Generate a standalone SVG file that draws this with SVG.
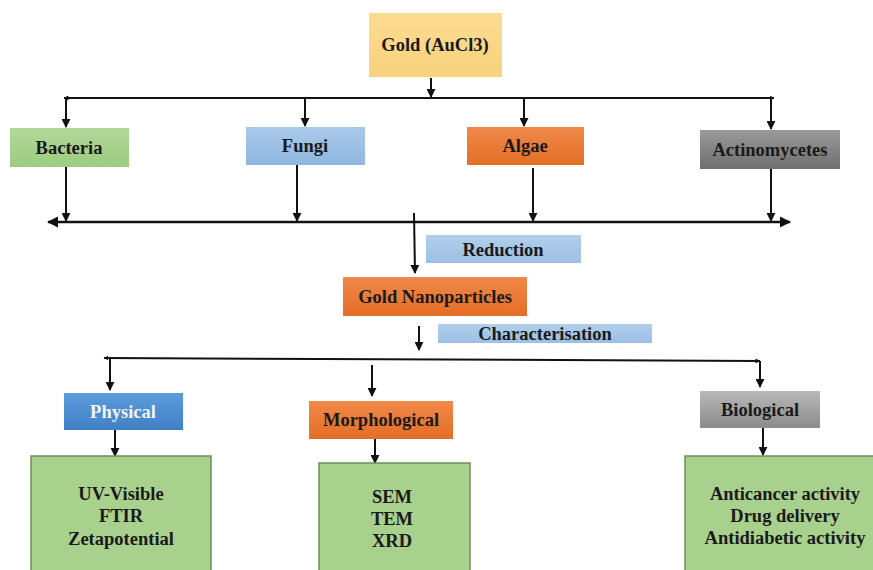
<svg xmlns="http://www.w3.org/2000/svg" width="873" height="570" viewBox="0 0 873 570">
<style>
  .t{font-family:"Liberation Serif","Times New Roman",serif;font-weight:bold;font-size:18.5px;fill:#1a1a1a;text-anchor:middle;dominant-baseline:central}
  .w{fill:#f2f2f2}
  .ln{stroke:#111;stroke-width:2;fill:none}
  .lnt{stroke:#111;stroke-width:2.5;fill:none}
  .green{fill:url(#gGreen)}
  .blue{fill:url(#gBlue)}
  .lblue{fill:url(#gLBlue)}
  .orange{fill:url(#gOrange)}
  .gray{fill:url(#gGray)}
  .big{fill:#a9d18e;stroke:#6f8f57;stroke-width:1.5}
</style>
<defs>
  <linearGradient id="gGreen" x1="0" y1="0" x2="0" y2="1"><stop offset="0" stop-color="#b3d79b"/><stop offset="1" stop-color="#9ccb7e"/></linearGradient>
  <linearGradient id="gBlue" x1="0" y1="0" x2="0" y2="1"><stop offset="0" stop-color="#a9c9ea"/><stop offset="1" stop-color="#8fb6e0"/></linearGradient>
  <linearGradient id="gLBlue" x1="0" y1="0" x2="0" y2="1"><stop offset="0" stop-color="#b2cfec"/><stop offset="1" stop-color="#9bbfe3"/></linearGradient>
  <linearGradient id="gPhys" x1="0" y1="0" x2="0" y2="1"><stop offset="0" stop-color="#5d9ddd"/><stop offset="1" stop-color="#3f7fc4"/></linearGradient>
  <linearGradient id="gOrange" x1="0" y1="0" x2="0" y2="1"><stop offset="0" stop-color="#f0894a"/><stop offset="1" stop-color="#e46d25"/></linearGradient>
  <linearGradient id="gGray" x1="0" y1="0" x2="0" y2="1"><stop offset="0" stop-color="#9a9a9a"/><stop offset="1" stop-color="#6e6e6e"/></linearGradient>
  <linearGradient id="gGray2" x1="0" y1="0" x2="0" y2="1"><stop offset="0" stop-color="#b8b8b8"/><stop offset="1" stop-color="#8c8c8c"/></linearGradient>
  <linearGradient id="gGoldY" x1="0" y1="0" x2="0" y2="1"><stop offset="0" stop-color="#fbdc92"/><stop offset="1" stop-color="#f8d27c"/></linearGradient>
  <marker id="ah" viewBox="0 0 10 10" refX="9" refY="5" markerWidth="4.5" markerHeight="4.5" orient="auto-start-reverse" markerUnits="strokeWidth">
    <path d="M0,0 L10,5 L0,10 z" fill="#111"/>
  </marker>
  <marker id="ahs" viewBox="0 0 10 10" refX="9" refY="5" markerWidth="2.5" markerHeight="2.5" orient="auto-start-reverse" markerUnits="strokeWidth">
    <path d="M0,0 L10,5 L0,10 z" fill="#111"/>
  </marker>
</defs>

<g id="connectors">
  <line class="ln" x1="431" y1="78" x2="431" y2="97" marker-end="url(#ah)"/>
  <line class="ln" x1="64" y1="98" x2="774" y2="98" marker-start="url(#ahs)" marker-end="url(#ahs)"/>
  <line class="ln" x1="66" y1="98" x2="66" y2="127" marker-end="url(#ah)"/>
  <line class="ln" x1="305" y1="98" x2="305" y2="126" marker-end="url(#ah)"/>
  <line class="ln" x1="524" y1="98" x2="524" y2="126" marker-end="url(#ah)"/>
  <line class="ln" x1="771" y1="98" x2="771" y2="129" marker-end="url(#ah)"/>
  <line class="ln" x1="66" y1="167" x2="66" y2="221" marker-end="url(#ah)"/>
  <line class="ln" x1="297" y1="165" x2="297" y2="221" marker-end="url(#ah)"/>
  <line class="ln" x1="533" y1="168" x2="533" y2="221" marker-end="url(#ah)"/>
  <line class="ln" x1="771" y1="169" x2="771" y2="221" marker-end="url(#ah)"/>
  <line class="lnt" x1="48" y1="222" x2="790" y2="222" marker-start="url(#ah)" marker-end="url(#ah)"/>
  <line class="ln" x1="414" y1="213" x2="415" y2="273" marker-end="url(#ah)"/>
  <line class="ln" x1="419" y1="326" x2="419" y2="350" marker-end="url(#ah)"/>
  <line class="ln" x1="104" y1="358" x2="760" y2="361" marker-start="url(#ahs)" marker-end="url(#ahs)"/>
  <line class="ln" x1="110" y1="359" x2="110" y2="390" marker-end="url(#ah)"/>
  <line class="ln" x1="372" y1="365" x2="372" y2="396" marker-end="url(#ah)"/>
  <line class="ln" x1="760" y1="361" x2="760" y2="387" marker-end="url(#ah)"/>
  <line class="ln" x1="115" y1="430" x2="115" y2="456" marker-end="url(#ah)"/>
  <line class="ln" x1="375" y1="439" x2="375" y2="463" marker-end="url(#ah)"/>
  <line class="ln" x1="763" y1="428" x2="763" y2="455" marker-end="url(#ah)"/>
</g>

<g id="gold">
  <rect x="369" y="13" width="133" height="64" fill="url(#gGoldY)"/>
  <text class="t" x="435" y="45">Gold (AuCl3)</text>
</g>
<g id="bacteria">
  <rect x="10" y="128" width="119" height="39" class="green"/>
  <text class="t" x="69" y="148">Bacteria</text>
</g>
<g id="fungi">
  <rect x="246" y="127" width="119" height="38" class="blue"/>
  <text class="t" x="305" y="146">Fungi</text>
</g>
<g id="algae">
  <rect x="467" y="127" width="117" height="38" class="orange"/>
  <text class="t" x="525" y="146">Algae</text>
</g>
<g id="actinomycetes">
  <rect x="700" y="130" width="140" height="39" class="gray"/>
  <text class="t" x="770" y="150">Actinomycetes</text>
</g>
<g id="reduction">
  <rect x="426" y="235" width="155" height="28" class="lblue"/>
  <text class="t" x="503" y="250">Reduction</text>
</g>
<g id="gold-nanoparticles">
  <rect x="343" y="277" width="184" height="39" class="orange"/>
  <text class="t" x="435" y="297">Gold Nanoparticles</text>
</g>
<g id="characterisation">
  <rect x="438" y="324" width="214" height="19" class="lblue"/>
  <text class="t" x="545" y="334">Characterisation</text>
</g>
<g id="physical">
  <rect x="64" y="393" width="119" height="37" fill="url(#gPhys)"/>
  <text class="t w" x="123" y="412">Physical</text>
</g>
<g id="morphological">
  <rect x="309" y="401" width="144" height="38" class="orange"/>
  <text class="t" x="381" y="420">Morphological</text>
</g>
<g id="biological">
  <rect x="700" y="391" width="120" height="37" fill="url(#gGray2)"/>
  <text class="t" x="760" y="410">Biological</text>
</g>
<g id="physical-methods">
  <rect x="31" y="456" width="180" height="120" class="big"/>
  <text class="t" x="121" y="494">UV-Visible</text>
  <text class="t" x="121" y="516">FTIR</text>
  <text class="t" x="121" y="539">Zetapotential</text>
</g>
<g id="morphological-methods">
  <rect x="319" y="463" width="151" height="115" class="big"/>
  <text class="t" x="392" y="497">SEM</text>
  <text class="t" x="392" y="519">TEM</text>
  <text class="t" x="392" y="541">XRD</text>
</g>
<g id="biological-activities">
  <rect x="685" y="456" width="195" height="120" class="big"/>
  <text class="t" x="785" y="494">Anticancer activity</text>
  <text class="t" x="785" y="516">Drug delivery</text>
  <text class="t" x="785" y="538">Antidiabetic activity</text>
</g>
</svg>
